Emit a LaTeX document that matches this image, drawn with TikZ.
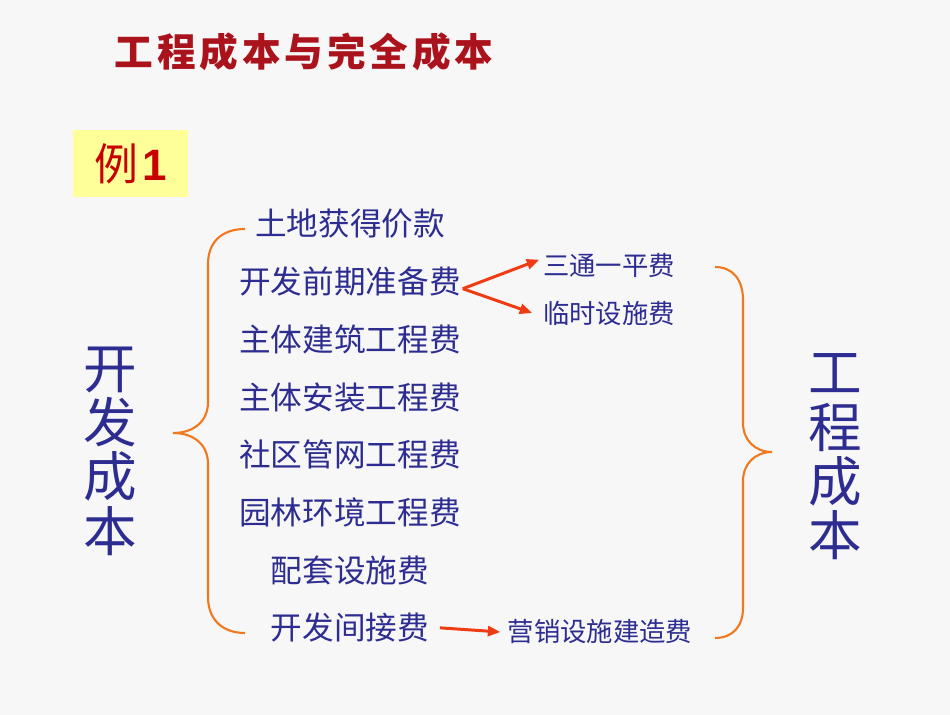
\documentclass[tikz,border=0pt]{standalone}
\usepackage{fontspec}
\usepackage{xcolor}
\usetikzlibrary{positioning,arrows.meta}
\newfontfamily\cjk{Noto Sans CJK SC}
\newfontfamily\cjktitle[LetterSpace=10]{Noto Sans CJK SC}
\newfontfamily\latin{Liberation Sans}
\definecolor{bgcol}{RGB}{247,247,247}
\definecolor{txtblue}{RGB}{45,45,145}
\definecolor{titlered}{RGB}{170,18,28}
\definecolor{exred}{RGB}{200,0,0}
\definecolor{boxyellow}{RGB}{255,255,153}
\definecolor{braceorange}{RGB}{240,120,30}
\definecolor{arrowred}{RGB}{240,60,20}

\begin{document}
\begin{tikzpicture}[
  x=0.02cm, y=-0.02cm,
  node distance=1.154cm, on grid,
  item/.style={font=\cjk\fontsize{18}{18}\selectfont, text=txtblue, inner sep=1pt},
  subitem/.style={font=\cjk\fontsize{15}{15}\selectfont, text=txtblue, inner sep=1pt},
  big/.style={font=\cjk\fontsize{30.5}{30.9}\selectfont, text=txtblue, align=center, inner sep=0pt},
  brace/.style={draw=braceorange, line width=1.2pt},
  arrow/.style={-{Triangle[length=2.5mm,width=2mm]}, draw=arrowred, line width=1.7pt}
]
\useasboundingbox (0,0) rectangle (950,715);
\fill[bgcol] (0,0) rectangle (950,715);

\node[font=\cjktitle\bfseries\fontsize{22}{22}\selectfont, text=titlered] (title) at (304,52) {工程成本与完全成本};
\node[fill=boxyellow, minimum width=2.3cm, minimum height=1.34cm, text=exred,
      font=\fontsize{25}{25}\selectfont] (ex) at (130.5,163.5) {{\cjk 例}\hspace{2pt}{\latin\bfseries 1}};

\node[big] (dev) at (110,451) {开\\发\\成\\本};
\node[big] (eng) at (835,457) {工\\程\\成\\本};

\node[item] (land) at (350,224) {土地获得价款};
\node[item, below=of land] (prep) {开发前期准备费};
\node[item, below=of prep] (main) {主体建筑工程费};
\node[item, below=of main] (inst) {主体安装工程费};
\node[item, below=of inst] (net) {社区管网工程费};
\node[item, below=of net] (garden) {园林环境工程费};
\node[item, below=of garden] (facil) {配套设施费};
\node[item, below=of facil] (indir) {开发间接费};

\node[subitem] (santong) at (609,265) {三通一平费};
\node[subitem] (temp) at (609,313) {临时设施费};
\node[subitem] (market) at (600,632) {营销设施建造费};

\draw[arrow] ([yshift=-4pt]prep.east) -- ([shift={(-1pt,3pt)}]santong.west);
\draw[arrow] ([yshift=-4pt]prep.east) -- ([xshift=-5pt]temp.west);
\draw[arrow] ([xshift=5pt]indir.east) -- ([xshift=-3pt]market.west);

\draw[brace] (245,229) .. controls (222,229) and (208,242) .. (208,264) -- (208,402)
  .. controls (208,422) and (193,433) .. (173,433) .. controls (193,433) and (208,444) .. (208,464)
  -- (208,597) .. controls (208,619) and (222,633) .. (245,633);
\draw[brace] (715,267) .. controls (733,267) and (743,280) .. (743,300) -- (743,423)
  .. controls (743,440) and (755,452) .. (772,452) .. controls (755,452) and (743,464) .. (743,481)
  -- (743,608) .. controls (743,626) and (733,638) .. (715,638);
\end{tikzpicture}
\end{document}
